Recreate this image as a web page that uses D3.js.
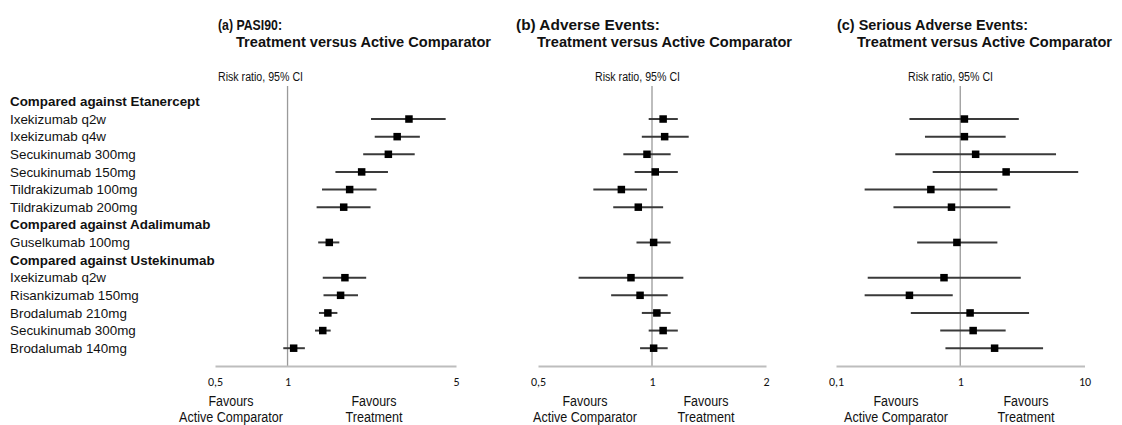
<!DOCTYPE html>
<html>
<head>
<meta charset="utf-8">
<script src="https://cdn.jsdelivr.net/npm/d3@7"></script>
<style>
  html, body { margin: 0; padding: 0; background: #fff; }
  svg { display: block; }
  text { font-family: "Liberation Sans", Arial, sans-serif; fill: #111; }
</style>
</head>
<body>
<svg id="chart" width="1122" height="425"></svg>
<script>
// ---------------- DATA ----------------
const treatments = ["Ixekizumab q2w", "Ixekizumab q4w", "Secukinumab 300mg", "Secukinumab 150mg",
  "Tildrakizumab 100mg", "Tildrakizumab 200mg", "Guselkumab 100mg", "Ixekizumab q2w",
  "Risankizumab 150mg", "Brodalumab 210mg", "Secukinumab 300mg", "Brodalumab 140mg"];
const comparators = ["Etanercept", "Etanercept", "Etanercept", "Etanercept", "Etanercept", "Etanercept",
  "Adalimumab", "Ustekinumab", "Ustekinumab", "Ustekinumab", "Ustekinumab", "Ustekinumab"];

// (a) PASI90
const pasiRR   = [3.19, 2.85, 2.62, 2.03, 1.81, 1.71, 1.49, 1.73, 1.66, 1.47, 1.40, 1.06];
const pasiLow  = [2.22, 2.30, 2.06, 1.58, 1.39, 1.32, 1.34, 1.40, 1.41, 1.35, 1.30, 0.96];
const pasiHigh = [4.53, 3.54, 3.37, 2.61, 2.34, 2.21, 1.64, 2.12, 1.96, 1.61, 1.51, 1.18];

// (b) Adverse events
const aeRR   = [1.07, 1.08, 0.97, 1.02, 0.83, 0.92, 1.01, 0.88, 0.93, 1.03, 1.07, 1.01];
const aeLow  = [0.98, 0.94, 0.84, 0.90, 0.70, 0.79, 0.91, 0.64, 0.78, 0.94, 0.98, 0.93];
const aeHigh = [1.17, 1.25, 1.12, 1.17, 0.97, 1.07, 1.12, 1.21, 1.10, 1.12, 1.17, 1.10];

// (c) Serious adverse events
const saeRR   = [1.08, 1.08, 1.33, 2.34, 0.58, 0.85, 0.94, 0.74, 0.39, 1.20, 1.27, 1.89];
const saeLow  = [0.39, 0.52, 0.30, 0.60, 0.17, 0.29, 0.45, 0.18, 0.17, 0.40, 0.69, 0.76];
const saeHigh = [2.96, 2.32, 5.90, 8.90, 1.99, 2.53, 1.99, 3.07, 0.87, 3.58, 2.32, 4.64];

const panelTitles1 = ["(a) PASI90:", "(b) Adverse Events:", "(c) Serious Adverse Events:"];
const panelTitle2 = "Treatment versus Active Comparator";
const tickValuesA = [0.5, 1, 5];
const tickValuesB = [0.5, 1, 2];
const tickValuesC = [0.1, 1, 10];
const axisTitle = "Risk ratio, 95% CI";
const favLeft = ["Favours", "Active Comparator"];
const favRight = ["Favours", "Treatment"];

// ---------------- LAYOUT ----------------
const svg = d3.select("#chart");

// build rows (headers + treatments)
const rows = [];
let prev = null;
treatments.forEach((t, i) => {
  if (comparators[i] !== prev) {
    rows.push({ header: true, label: "Compared against " + comparators[i] });
    prev = comparators[i];
  }
  rows.push({ header: false, label: t, idx: i });
});

const y = d3.scaleLinear().domain([0, rows.length - 1]).range([101.4, 348.2]);

// row labels
svg.append("g").selectAll("text").data(rows).join("text")
  .attr("x", 10)
  .attr("y", (d, i) => y(i) + 4.6)
  .style("font-size", "13.4px")
  .style("font-weight", d => d.header ? "bold" : "normal")
  .attr("fill", "#111")
  .text(d => d.label);

const axisY = 366;
const panels = [
  { title1: panelTitles1[0], tw1: 64, tx1: 218, tx2: 236, domain: [0.5, 5], range: [215, 456], ticks: tickValuesA,
    est: pasiRR, lo: pasiLow, hi: pasiHigh, atx: 218, favL: 231, favR: 374 },
  { title1: panelTitles1[1], tw1: 144, tx1: 516, tx2: 537, domain: [0.5, 2], range: [538, 766], ticks: tickValuesB,
    est: aeRR, lo: aeLow, hi: aeHigh, atx: 595, favL: 585, favR: 706 },
  { title1: panelTitles1[2], tw1: 191, tx1: 837, tx2: 857, domain: [0.1, 10], range: [836, 1084.5], ticks: tickValuesC,
    est: saeRR, lo: saeLow, hi: saeHigh, atx: 908, favL: 896, favR: 1026 }
];

panels.forEach(p => {
  const g = svg.append("g");
  const x = d3.scaleLog().domain(p.domain).range(p.range);

  // titles
  g.append("text").attr("x", p.tx1).attr("y", 29.5)
    .style("font-size", "14.5px").style("font-weight", "bold")
    .attr("textLength", p.tw1).attr("lengthAdjust", "spacingAndGlyphs").text(p.title1);
  g.append("text").attr("x", p.tx2).attr("y", 46.5)
    .style("font-size", "14.5px").style("font-weight", "bold")
    .attr("textLength", 255).attr("lengthAdjust", "spacingAndGlyphs").text(panelTitle2);

  // axis title
  g.append("text").attr("x", p.atx).attr("y", 80.5)
    .style("font-size", "12.5px").attr("textLength", 85).attr("lengthAdjust", "spacingAndGlyphs")
    .text(axisTitle);

  // reference line
  g.append("line")
    .attr("x1", x(1)).attr("x2", x(1)).attr("y1", 86).attr("y2", axisY)
    .attr("stroke", "#9a9a9a").attr("stroke-width", 1.3);

  // axis
  const ax = g.append("g").attr("transform", `translate(0,${axisY})`)
    .call(d3.axisBottom(x).tickValues(p.ticks).tickSize(0).tickPadding(11)
      .tickFormat(d => String(d).replace(".", ",")));
  ax.select(".domain").attr("stroke", "#bdbdbd").attr("stroke-width", 2);
  ax.selectAll("text").style("font-family", "Carlito, 'Liberation Sans', sans-serif")
    .style("font-size", "12px").attr("fill", "#333");

  // CI lines and markers
  const dataRows = rows.map((r, i) => ({ ...r, row: i })).filter(r => !r.header);
  g.append("g").selectAll("line").data(dataRows).join("line")
    .attr("x1", d => x(p.lo[d.idx])).attr("x2", d => x(p.hi[d.idx]))
    .attr("y1", d => y(d.row)).attr("y2", d => y(d.row))
    .attr("stroke", "#3a3a3a").attr("stroke-width", 2);
  const ms = 7.5;
  g.append("g").selectAll("rect").data(dataRows).join("rect")
    .attr("x", d => x(p.est[d.idx]) - ms / 2).attr("y", d => y(d.row) - ms / 2)
    .attr("width", ms).attr("height", ms).attr("fill", "#000");

  // favours labels
  const favWidths = { "Favours": 45, "Active Comparator": 104, "Treatment": 57 };
  [[p.favL, favLeft], [p.favR, favRight]].forEach(([cx, lines]) => {
    lines.forEach((t, k) => {
      g.append("text").attr("x", cx).attr("y", 405.5 + k * 16)
        .attr("text-anchor", "middle").style("font-size", "14px")
        .attr("textLength", favWidths[t]).attr("lengthAdjust", "spacingAndGlyphs").text(t);
    });
  });
});
</script>
</body>
</html>
